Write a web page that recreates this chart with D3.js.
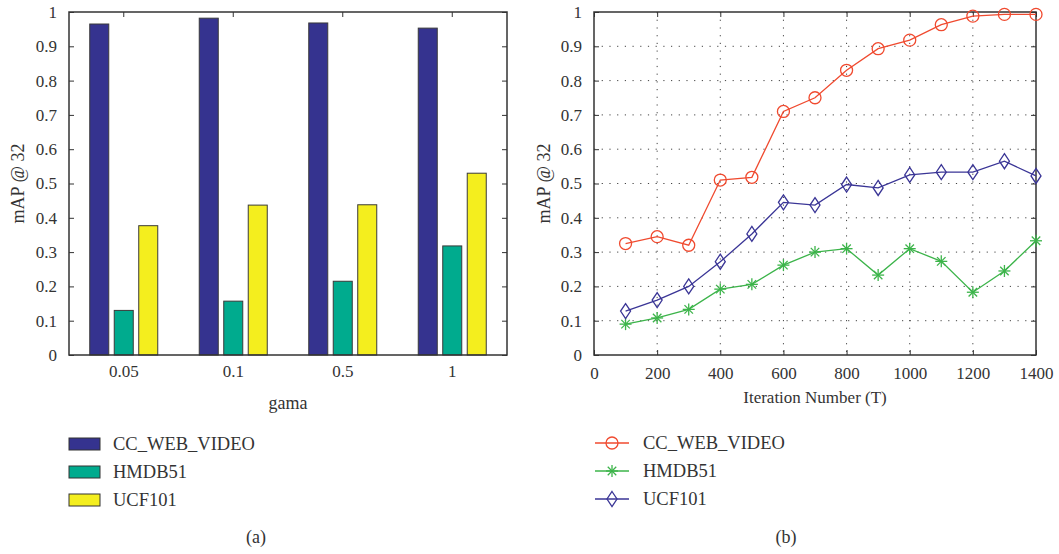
<!DOCTYPE html>
<html>
<head>
<meta charset="utf-8">
<script src="https://cdn.jsdelivr.net/npm/d3@7"></script>
<style>
  body { margin: 0; background: #fff; }
  svg { display: block; }
  .axis path, .axis line { stroke: #333; }
</style>
</head>
<body>
<svg></svg>
<script>
const svg = d3.select("svg").attr("width", 1059).attr("height", 554);

// data (a): bar chart
const gamaLabels = ["0.05", "0.1", "0.5", "1"];
const seriesNames = ["CC_WEB_VIDEO", "HMDB51", "UCF101"];
const barCC = [0.965, 0.982, 0.968, 0.953];
const barHMDB = [0.13, 0.157, 0.215, 0.318];
const barUCF = [0.377, 0.437, 0.438, 0.53];

// data (b): line chart
const iterations = [100, 200, 300, 400, 500, 600, 700, 800, 900, 1000, 1100, 1200, 1300, 1400];
const lineCC = [0.325, 0.345, 0.32, 0.51, 0.518, 0.71, 0.75, 0.83, 0.893, 0.918, 0.963, 0.988, 0.993, 0.993];
const lineHMDB = [0.09, 0.108, 0.133, 0.192, 0.206, 0.262, 0.3, 0.31, 0.233, 0.31, 0.273, 0.183, 0.245, 0.333];
const lineUCF = [0.128, 0.16, 0.2, 0.272, 0.353, 0.445, 0.437, 0.497, 0.487, 0.525, 0.533, 0.533, 0.565, 0.522];

const yTicks = [0, 0.1, 0.2, 0.3, 0.4, 0.5, 0.6, 0.7, 0.8, 0.9, 1];
const xTicks = [0, 200, 400, 600, 800, 1000, 1200, 1400];

const barColors = ["#35338f", "#00ab8e", "#f4ee1e"];
const lineColors = ["#f04a2f", "#3cb44a", "#3a3596"];

const plotTop = 12, plotBottom = 355;
const fontSize = 17;
const serif = '"Liberation Serif", "Times New Roman", serif';

// apply the serif font to text selections
function styleText(sel, size) {
  return sel.style("font-family", serif)
    .style("font-size", (size || fontSize) + "px")
    .attr("fill", "#333");
}

// ---------- (a) BAR CHART ----------
const ax0 = 69, ax1 = 507;
const yA = d3.scaleLinear().domain([0, 1]).range([plotBottom, plotTop]);
const x0 = d3.scaleBand().domain(gamaLabels).range([ax0, ax1]);
const x1 = d3.scaleBand().domain(seriesNames).range([0, 68]).paddingInner(0.224);
const groupOffset = (x0.bandwidth() - 68) / 2;

const barData = gamaLabels.map((g, i) => ({
  gama: g,
  values: [barCC[i], barHMDB[i], barUCF[i]].map((v, j) => ({ name: seriesNames[j], value: v, k: j }))
}));

const gA = svg.append("g");

const groups = gA.selectAll("g.group")
  .data(barData)
  .enter()
  .append("g")
  .attr("class", "group")
  .attr("transform", d => `translate(${x0(d.gama) + groupOffset}, 0)`);

groups.selectAll("rect")
  .data(d => d.values)
  .enter()
  .append("rect")
  .attr("x", d => x1(d.name))
  .attr("y", d => yA(d.value))
  .attr("width", x1.bandwidth())
  .attr("height", d => yA(0) - yA(d.value))
  .style("fill", d => barColors[d.k])
  .style("stroke", "#3a3a3a")
  .style("stroke-width", 1);

// frame
gA.append("rect")
  .attr("x", ax0).attr("y", plotTop)
  .attr("width", ax1 - ax0).attr("height", plotBottom - plotTop)
  .style("fill", "none").style("stroke", "#333").style("stroke-width", 1.5);

// y axis left (ticks inward)
gA.append("g")
  .attr("class", "axis")
  .attr("transform", `translate(${ax0},0)`)
  .call(d3.axisLeft(yA).tickValues(yTicks).tickSizeInner(-5).tickSizeOuter(0).tickPadding(12).tickFormat(d3.format("")))
  .call(g => g.select(".domain").remove())
  .call(g => styleText(g.selectAll("text")));
// y ticks right
gA.append("g")
  .attr("class", "axis")
  .attr("transform", `translate(${ax1},0)`)
  .call(d3.axisRight(yA).tickValues(yTicks).tickSizeInner(-5).tickSizeOuter(0).tickFormat(""))
  .call(g => g.select(".domain").remove());
// x axis bottom labels
gA.append("g")
  .attr("class", "axis")
  .attr("transform", `translate(0,${plotBottom})`)
  .call(d3.axisBottom(x0).tickSize(0).tickPadding(10))
  .call(g => g.select(".domain").remove())
  .call(g => styleText(g.selectAll("text")));
// x ticks top
gA.append("g")
  .attr("class", "axis")
  .attr("transform", `translate(0,${plotTop})`)
  .call(d3.axisTop(x0).tickSizeInner(-5).tickSizeOuter(0).tickFormat(""))
  .call(g => g.select(".domain").remove());

styleText(gA.append("text")
  .attr("transform", `translate(24, ${(plotTop + plotBottom) / 2}) rotate(-90)`)
  .attr("text-anchor", "middle")
  .text("mAP @ 32"), 18);
styleText(gA.append("text")
  .attr("x", (ax0 + ax1) / 2).attr("y", 409)
  .attr("text-anchor", "middle")
  .text("gama"), 18);

// legend (a)
const legA = gA.selectAll("g.legA")
  .data(seriesNames)
  .enter()
  .append("g")
  .attr("class", "legA")
  .attr("transform", (d, i) => `translate(69, ${438 + i * 28})`);
legA.append("rect")
  .attr("width", 31).attr("height", 12)
  .style("fill", (d, i) => barColors[i])
  .style("stroke", "#333").style("stroke-width", 1);
styleText(legA.append("text")
  .attr("x", 44).attr("y", 6).attr("dy", "0.35em")
  .text(d => d), 18.5);

styleText(gA.append("text")
  .attr("x", 256).attr("y", 543)
  .attr("text-anchor", "middle")
  .text("(a)"), 18);

// ---------- (b) LINE CHART ----------
const bx0 = 594, bx1 = 1036;
const xB = d3.scaleLinear().domain([0, 1400]).range([bx0, bx1]);
const yB = d3.scaleLinear().domain([0, 1]).range([plotBottom, plotTop]);

const gB = svg.append("g");

// dotted grid
gB.append("g")
  .selectAll("line.vgrid")
  .data(xTicks.slice(1, -1))
  .enter()
  .append("line")
  .attr("x1", d => xB(d)).attr("x2", d => xB(d))
  .attr("y1", plotTop).attr("y2", plotBottom)
  .style("stroke", "#444").style("stroke-width", 1).style("stroke-dasharray", "1.2,6.5");
gB.append("g")
  .selectAll("line.hgrid")
  .data(yTicks.slice(1, -1))
  .enter()
  .append("line")
  .attr("x1", bx0).attr("x2", bx1)
  .attr("y1", d => yB(d)).attr("y2", d => yB(d))
  .style("stroke", "#444").style("stroke-width", 1).style("stroke-dasharray", "1.2,6.5");

// axes
gB.append("g")
  .attr("class", "axis")
  .attr("transform", `translate(${bx0},0)`)
  .call(d3.axisLeft(yB).tickValues(yTicks).tickSizeInner(-5).tickSizeOuter(0).tickPadding(12).tickFormat(d3.format("")))
  .call(g => g.select(".domain").remove())
  .call(g => styleText(g.selectAll("text")));
gB.append("g")
  .attr("class", "axis")
  .attr("transform", `translate(${bx1},0)`)
  .call(d3.axisRight(yB).tickValues(yTicks).tickSizeInner(-5).tickSizeOuter(0).tickFormat(""))
  .call(g => g.select(".domain").remove());
gB.append("g")
  .attr("class", "axis")
  .attr("transform", `translate(0,${plotBottom})`)
  .call(d3.axisBottom(xB).tickValues(xTicks).tickSizeInner(-5).tickSizeOuter(0).tickPadding(12).tickFormat(d3.format("")))
  .call(g => g.select(".domain").remove())
  .call(g => styleText(g.selectAll("text")));
gB.append("g")
  .attr("class", "axis")
  .attr("transform", `translate(0,${plotTop})`)
  .call(d3.axisTop(xB).tickValues(xTicks).tickSizeInner(-5).tickSizeOuter(0).tickFormat(""))
  .call(g => g.select(".domain").remove());

gB.append("rect")
  .attr("x", bx0).attr("y", plotTop)
  .attr("width", bx1 - bx0).attr("height", plotBottom - plotTop)
  .style("fill", "none").style("stroke", "#333").style("stroke-width", 1.5);

// markers
function drawMarker(sel, k) {
  if (k === 0) {
    sel.append("circle").attr("r", 6).style("fill", "none").style("stroke", lineColors[0]).style("stroke-width", 1.3);
  } else if (k === 1) {
    const r = 6;
    [0, 45, 90, 135].forEach(a => {
      const rad = a * Math.PI / 180;
      sel.append("line")
        .attr("x1", -r * Math.cos(rad)).attr("y1", -r * Math.sin(rad))
        .attr("x2", r * Math.cos(rad)).attr("y2", r * Math.sin(rad))
        .style("stroke", lineColors[1]).style("stroke-width", 1.3);
    });
  } else {
    sel.append("path").attr("d", "M0,-7.5L5,0L0,7.5L-5,0Z")
      .style("fill", "none").style("stroke", lineColors[2]).style("stroke-width", 1.3);
  }
}

const lineGenerator = d3.line()
  .x((d, i) => xB(iterations[i]))
  .y(d => yB(d));

const lineSeries = [lineCC, lineHMDB, lineUCF];
lineSeries.forEach((vals, k) => {
  gB.append("path")
    .datum(vals)
    .attr("d", lineGenerator)
    .style("fill", "none")
    .style("stroke", lineColors[k])
    .style("stroke-width", 1.3);
  gB.selectAll(`g.m${k}`)
    .data(vals)
    .enter()
    .append("g")
    .attr("class", `m${k}`)
    .attr("transform", (d, i) => `translate(${xB(iterations[i])}, ${yB(d)})`)
    .each(function () { drawMarker(d3.select(this), k); });
});

styleText(gB.append("text")
  .attr("transform", `translate(550, ${(plotTop + plotBottom) / 2}) rotate(-90)`)
  .attr("text-anchor", "middle")
  .text("mAP @ 32"), 18);
styleText(gB.append("text")
  .attr("x", (bx0 + bx1) / 2).attr("y", 403)
  .attr("text-anchor", "middle")
  .text("Iteration Number (T)"), 17);

// legend (b)
const legB = gB.selectAll("g.legB")
  .data(seriesNames)
  .enter()
  .append("g")
  .attr("class", "legB")
  .attr("transform", (d, i) => `translate(595, ${443 + i * 28})`);
legB.append("line")
  .attr("x1", 0).attr("x2", 34)
  .style("stroke", (d, i) => lineColors[i]).style("stroke-width", 1.3);
legB.each(function (d, i) {
  const m = d3.select(this).append("g").attr("transform", "translate(17,0)");
  drawMarker(m, i);
});
styleText(legB.append("text")
  .attr("x", 48).attr("dy", "0.35em")
  .text(d => d), 18.5);

styleText(gB.append("text")
  .attr("x", 786).attr("y", 543)
  .attr("text-anchor", "middle")
  .text("(b)"), 18);
</script>
</body>
</html>
